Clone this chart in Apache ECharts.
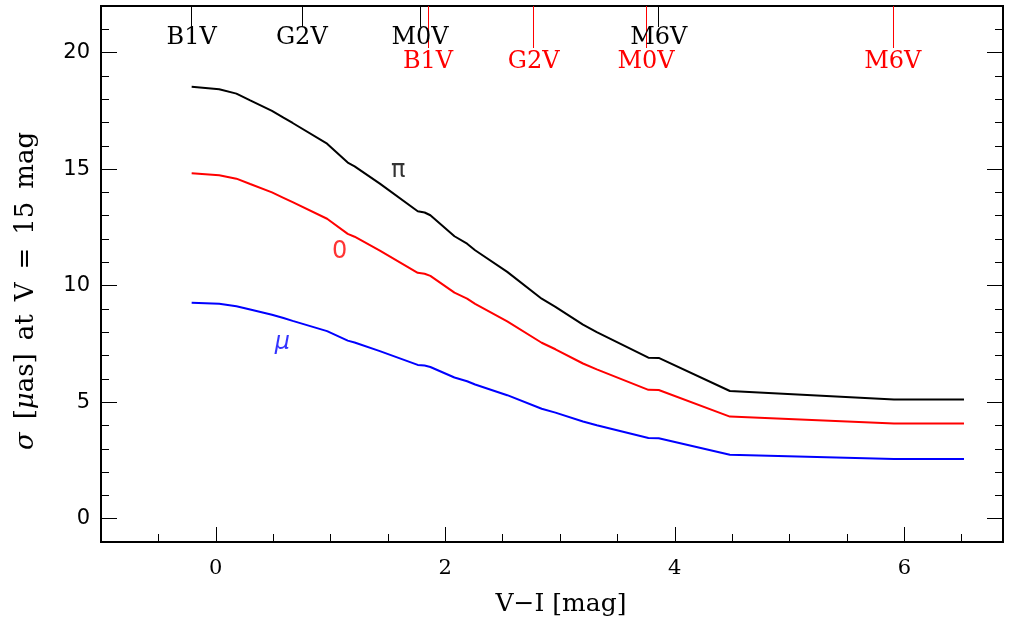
<!DOCTYPE html>
<html>
<head>
<meta charset="utf-8">
<script src="https://cdn.jsdelivr.net/npm/echarts@6/dist/echarts.min.js"></script>
<style>
  html, body { margin: 0; padding: 0; background: #fff; }
  #chart { width: 1013px; height: 624px; }
</style>
</head>
<body>
<div id="chart"></div>
<script>
// V-I colour of the curve vertices
var colourVI = [-0.21, 0.03, 0.18, 0.30, 0.49, 0.59, 0.67, 0.97, 1.15, 1.21, 1.43, 1.76, 1.82, 1.87,
  2.08, 2.19, 2.26, 2.54, 2.84, 2.96, 3.20, 3.32, 3.77, 3.86, 4.48, 5.91, 6.52];
// sigma for parallax (black), position (red), proper motion (blue), in micro-arcsec
var sigmaPi = [18.53, 18.43, 18.24, 17.95, 17.50, 17.21, 16.98, 16.09, 15.28, 15.12, 14.38, 13.19, 13.14, 13.02,
  12.12, 11.80, 11.52, 10.59, 9.44, 9.09, 8.33, 8.01, 6.91, 6.90, 5.48, 5.11, 5.11];
var sigmaPos = [14.82, 14.74, 14.59, 14.36, 14.00, 13.77, 13.58, 12.87, 12.22, 12.10, 11.50, 10.55, 10.51, 10.42,
  9.70, 9.44, 9.22, 8.47, 7.55, 7.27, 6.66, 6.41, 5.53, 5.52, 4.38, 4.09, 4.09];
var sigmaMu = [9.27, 9.22, 9.12, 8.98, 8.75, 8.61, 8.49, 8.05, 7.64, 7.56, 7.19, 6.60, 6.57, 6.51,
  6.06, 5.90, 5.76, 5.30, 4.72, 4.55, 4.17, 4.01, 3.46, 3.45, 2.74, 2.56, 2.56];

// spectral types along the top: unreddened (black) and reddened (red)
var typeNames = ['B1V', 'G2V', 'M0V', 'M6V'];
var typesPlain = [-0.21, 0.75, 1.78, 3.86];
var typesRed = [1.85, 2.77, 3.75, 5.90];

// curve labels
var curveLabels = ['π', '0', 'μ'];
var curveLabelX = [1.59, 1.08, 0.58];
var curveLabelY = [14.94, 11.46, 7.55];

// ticks
var xMajor = [0, 2, 4, 6];
var xMinor = [-0.5, 0.5, 1, 1.5, 2.5, 3, 3.5, 4.5, 5, 5.5, 6.5];
var yMajor = [0, 5, 10, 15, 20];
var yMinor = [1, 2, 3, 4, 6, 7, 8, 9, 11, 12, 13, 14, 16, 17, 18, 19, 21];

var X_MIN = -1, X_MAX = 6.86, Y_MIN = -1, Y_MAX = 22;

function pairs(xs, ys) {
  return xs.map(function (x, i) { return [x, ys[i]]; });
}
function typeLabel(list) {
  return function (v) {
    for (var i = 0; i < list.length; i++) {
      if (Math.abs(list[i] - v) < 1e-6) return typeNames[i];
    }
    return '';
  };
}

var serif = 'DejaVu Serif';
var sans = 'DejaVu Sans';

function plainX(extra) {
  var base = {
    type: 'value', min: X_MIN, max: X_MAX, position: 'bottom',
    axisLine: { show: false, onZero: false }, splitLine: { show: false },
    axisTick: { show: false }, axisLabel: { show: false }
  };
  return Object.assign(base, extra);
}
function plainY(extra) {
  var base = {
    type: 'value', min: Y_MIN, max: Y_MAX, position: 'left',
    axisLine: { show: false, onZero: false }, splitLine: { show: false },
    axisTick: { show: false }, axisLabel: { show: false }
  };
  return Object.assign(base, extra);
}

var chart = echarts.init(document.getElementById('chart'));

var option = {
  animation: false,
  backgroundColor: '#fff',
  grid: {
    left: 101, right: 10, top: 6, bottom: 82,
    show: true, borderColor: '#000', borderWidth: 2, backgroundColor: 'transparent'
  },
  xAxis: [
    plainX({
      axisTick: { show: true, inside: true, length: 15, customValues: xMajor, lineStyle: { color: '#000', width: 1 } },
      axisLabel: { show: true, customValues: xMajor, margin: 16, color: '#000', fontFamily: serif, fontSize: 21 },
      name: 'V\u2212I [mag]', nameLocation: 'middle', nameGap: 50,
      nameTextStyle: { color: '#000', fontFamily: serif, fontSize: 25, padding: [0, 0, 0, 18] }
    }),
    plainX({
      axisTick: { show: true, inside: true, length: 8, customValues: xMinor, lineStyle: { color: '#000', width: 1 } }
    }),
    plainX({
      position: 'top',
      axisTick: { show: true, inside: true, length: 21, customValues: typesPlain, lineStyle: { color: '#000', width: 1 } },
      axisLabel: { show: true, inside: true, customValues: typesPlain, formatter: typeLabel(typesPlain),
        margin: 20, color: '#000', fontFamily: serif, fontSize: 24 }
    }),
    plainX({
      position: 'top',
      axisTick: { show: true, inside: true, length: 42, customValues: typesRed, lineStyle: { color: '#ff0000', width: 1 } },
      axisLabel: { show: true, inside: true, customValues: typesRed, formatter: typeLabel(typesRed),
        margin: 44, color: '#ff0000', fontFamily: serif, fontSize: 24 }
    })
  ],
  yAxis: [
    plainY({
      axisTick: { show: true, inside: true, length: 16, customValues: yMajor, lineStyle: { color: '#000', width: 1 } },
      axisLabel: { show: true, customValues: yMajor, margin: 11, color: '#000', fontFamily: sans, fontSize: 21 },
      name: '{i|σ}\u2002[{i|μ}as]\u2002at\u2002V\u2002=\u200215\u2002mag', nameLocation: 'middle', nameGap: 62, nameRotate: 90,
      nameTextStyle: { color: '#000', fontFamily: serif, fontSize: 26, padding: [0, 34, 0, 0],
        rich: { i: { fontStyle: 'italic', fontFamily: serif, fontSize: 26 } } }
    }),
    plainY({
      axisTick: { show: true, inside: true, length: 8, customValues: yMinor, lineStyle: { color: '#000', width: 1 } }
    }),
    plainY({
      position: 'right',
      axisTick: { show: true, inside: true, length: 16, customValues: yMajor, lineStyle: { color: '#000', width: 1 } }
    }),
    plainY({
      position: 'right',
      axisTick: { show: true, inside: true, length: 8, customValues: yMinor, lineStyle: { color: '#000', width: 1 } }
    })
  ],
  series: [
    { name: 'parallax', type: 'line', data: pairs(colourVI, sigmaPi), showSymbol: false,
      lineStyle: { color: '#000', width: 2 }, z: 3 },
    { name: 'position', type: 'line', data: pairs(colourVI, sigmaPos), showSymbol: false,
      lineStyle: { color: '#ff0000', width: 2 }, z: 3 },
    { name: 'proper motion', type: 'line', data: pairs(colourVI, sigmaMu), showSymbol: false,
      lineStyle: { color: '#0000ff', width: 2 }, z: 3 },
    { name: 'labels', type: 'scatter', symbolSize: 0, silent: true,
      data: curveLabels.map(function (t, i) {
        var col = ['#000', '#ff0000', '#0000ff'][i];
        return {
          value: [curveLabelX[i], curveLabelY[i]], name: t,
          label: { show: true, position: 'inside', formatter: t, color: col,
            fontFamily: sans, fontSize: 24, fontStyle: i === 2 ? 'italic' : 'normal' }
        };
      })
    }
  ]
};

chart.setOption(option);
</script>
</body>
</html>
